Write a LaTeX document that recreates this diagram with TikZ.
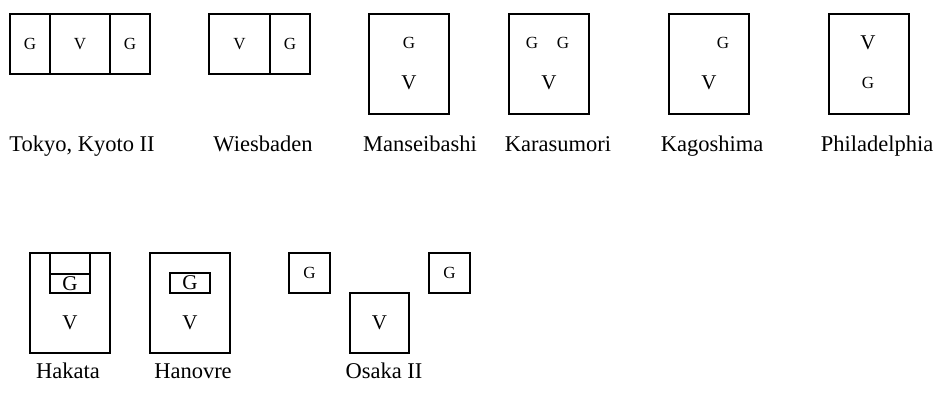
\documentclass[tikz,border=0pt]{standalone}
\usepackage{fontspec}
\setmainfont{Liberation Serif}
\usetikzlibrary{positioning}
\tikzset{x=1pt, y=-1pt, % one unit is one pixel of the plan, y runs downwards
box/.style={draw, line width=1.3pt, inner sep=0pt, outer sep=0pt}, % the outline of a room
smalltxt/.style={font=\fontsize{17}{20}\selectfont, inner sep=0pt}, % small letters
bigtxt/.style={font=\fontsize{21}{25}\selectfont, inner sep=0pt}, % large letters
lbl/.style={font=\fontsize{22.5}{27}\selectfont, anchor=base, inner sep=0pt}, % name of the city
}
\begin{document}
\begin{tikzpicture}
    \useasboundingbox (0,0) rectangle (936,394);
    % top row
    \node[box, smalltxt, minimum width=40pt, minimum height=60pt] (tkGa) at (30,44) {G};
    \node[box, smalltxt, minimum width=60pt, minimum height=60pt] (tkV) at (80,44) {V};
    \node[box, smalltxt, minimum width=40pt, minimum height=60pt] (tkGb) at (130,44) {G};
    \node[lbl] (tkName) at (82,151) {Tokyo, Kyoto II};

    \node[box, smalltxt, minimum width=61pt, minimum height=60pt] (wbV) at (239.5,44) {V};
    \node[box, smalltxt, minimum width=40pt, minimum height=60pt] (wbG) at (290,44) {G};
    \node[lbl] (wbName) at (263,151) {Wiesbaden};

    \node[box, minimum width=80pt, minimum height=100pt] (msBox) at (409,64) {};
    \node[smalltxt] (msG) at (409,43) {G};
    \node[bigtxt] (msV) at (409,83) {V};
    \node[lbl] (msName) at (420,151) {Manseibashi};

    \node[box, minimum width=80pt, minimum height=100pt] (kaBox) at (549,64) {};
    \node[smalltxt] (kaGa) at (532,43) {G};
    \node[smalltxt] (kaGb) at (563,43) {G};
    \node[bigtxt] (kaV) at (549,83) {V};
    \node[lbl] (kaName) at (558,151) {Karasumori};

    \node[box, minimum width=80pt, minimum height=100pt] (kgBox) at (709,64) {};
    \node[smalltxt] (kgG) at (723,43) {G};
    \node[bigtxt] (kgV) at (709,83) {V};
    \node[lbl] (kgName) at (712,151) {Kagoshima};

    \node[box, minimum width=80pt, minimum height=100pt] (phBox) at (869,64) {};
    \node[bigtxt] (phV) at (868,43) {V};
    \node[smalltxt] (phG) at (868,83) {G};
    \node[lbl] (phName) at (877,151) {Philadelphia};

    % bottom row
    \node[box, minimum width=80pt, minimum height=100pt] (hkBox) at (70,303) {};
    \node[box, minimum width=40pt, minimum height=21pt] (hkTop) at (70,263.5) {};
    \node[box, bigtxt, minimum width=40pt, minimum height=19pt] (hkG) at (70,283.5) {G};
    \node[bigtxt] (hkV) at (70,323) {V};
    \node[lbl] (hkName) at (68,378) {Hakata};

    \node[box, minimum width=80pt, minimum height=100pt] (hnBox) at (190,303) {};
    \node[box, bigtxt, minimum width=40pt, minimum height=20pt] (hnG) at (190,283) {G};
    \node[bigtxt] (hnV) at (190,323) {V};
    \node[lbl] (hnName) at (193,378) {Hanovre};

    \node[box, smalltxt, minimum width=41pt, minimum height=40pt] (osGa) at (309.5,273) {G};
    \node[box, smalltxt, minimum width=41pt, minimum height=40pt] (osGb) at (449.5,273) {G};
    \node[box, bigtxt, minimum width=59pt, minimum height=60pt] (osV) at (379.5,323) {V};
    \node[lbl] (osName) at (384,378) {Osaka II};
\end{tikzpicture}
\end{document}
